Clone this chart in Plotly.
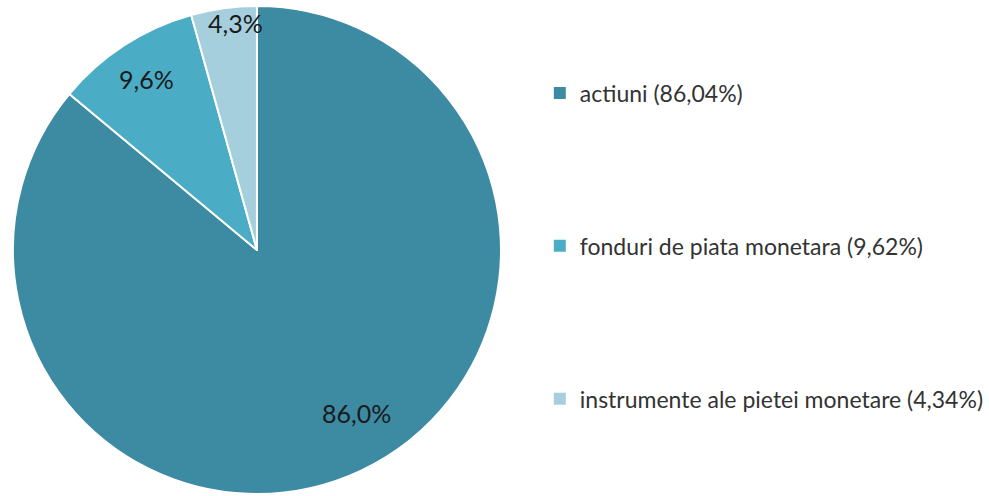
import math
import plotly.graph_objects as go

labels = ["actiuni", "fonduri de piata monetara", "instrumente ale pietei monetare"]
values = [86.04, 9.62, 4.34]
slice_text = ["86,0%", "9,6%", "4,3%"]
legend_text = ["actiuni (86,04%)", "fonduri de piata monetara (9,62%)", "instrumente ale pietei monetare (4,34%)"]
colors = ["#3D8BA3", "#4BACC6", "#A6CFDD"]

W, H = 989, 496
CX, CY, R = 258, 250, 245          # pie centre / radius in pixels
label_radius = [0.78, 0.83, 0.93]  # radial placement of slice labels
label_turn = [-0.11, 0.0, 0.04]    # angular nudge (radians) of slice labels

fig = go.Figure()
fig.add_trace(go.Pie(
    labels=labels, values=values, sort=False, direction="clockwise", rotation=0,
    marker=dict(colors=colors, line=dict(color="white", width=2)),
    textinfo="none", showlegend=False, hoverinfo="label+percent",
    domain=dict(x=[(CX - R) / W, (CX + R) / W], y=[1 - (CY + R) / H, 1 - (CY - R) / H]),
))

total = sum(values)
cum = 0
for v, t, f, d in zip(values, slice_text, label_radius, label_turn):
    mid = (cum + v / 2) / total * 2 * math.pi + d
    cum += v
    px = CX + f * R * math.sin(mid)
    py = CY - f * R * math.cos(mid)
    fig.add_annotation(x=px / W, y=1 - py / H, xref="paper", yref="paper", text=t,
                       showarrow=False, xanchor="center", yanchor="middle",
                       font=dict(family="Lato", size=25, color="#1a1a1a"))

for i, (t, c) in enumerate(zip(legend_text, colors)):
    fig.add_trace(go.Scatter(
        x=[None], y=[None], mode="markers", name=t, legendgroup=f"g{i}",
        marker=dict(symbol="square", size=12, color=c), showlegend=True,
    ))

fig.update_layout(
    width=W, height=H,
    margin=dict(l=0, r=0, t=0, b=0),
    paper_bgcolor="white", plot_bgcolor="white",
    xaxis=dict(visible=False), yaxis=dict(visible=False),
    legend=dict(x=542 / W, xanchor="left", y=1 - 246 / H, yanchor="middle",
                font=dict(family="Lato", size=23, color="#333333"),
                tracegroupgap=120, itemsizing="constant", bgcolor="rgba(0,0,0,0)"),
)
fig.write_html("out.html", config={"displayModeBar": False},
               post_script="document.body.style.margin='0';")
